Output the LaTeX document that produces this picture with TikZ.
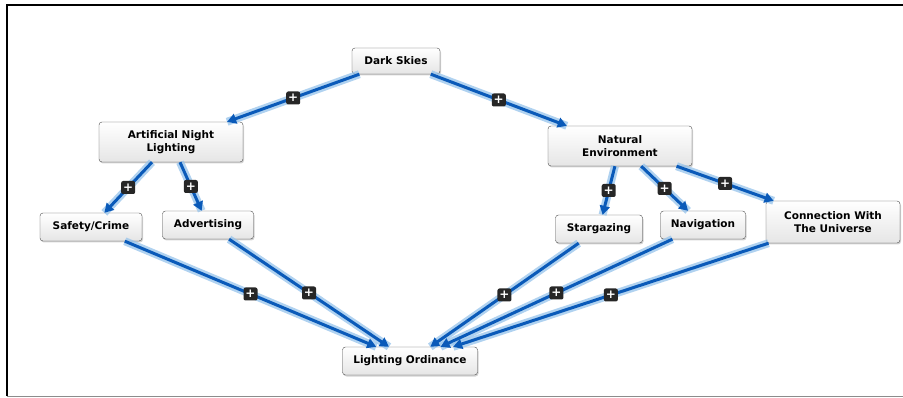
\documentclass[tikz,border=0pt]{standalone}
\usepackage{fontspec}
\setsansfont{DejaVu Sans}
\usetikzlibrary{arrows.meta,shadows}
\definecolor{linkblue}{RGB}{10,90,185}
\definecolor{haloblue}{RGB}{150,195,235}

\begin{document}
\begin{tikzpicture}[
        x=1pt, y=-1pt,
        every node/.style={font=\sffamily\bfseries\fontsize{10.5}{13}\selectfont, align=center},
        topic/.style={draw=black!70, rounded corners=3pt, top color=white, bottom color=black!10, inner sep=0pt,
            drop shadow={opacity=.35, shadow xshift=1pt, shadow yshift=-1.5pt}},
        plus/.style={fill=black!85, rounded corners=2pt, text=white, minimum width=14pt, minimum height=13pt,
            inner sep=0pt, font=\sffamily\bfseries\fontsize{12}{12}\selectfont},
        link/.style={linkblue, line width=3pt, -{Triangle[length=9pt,width=10pt]},
            preaction={draw=haloblue, line width=8pt, opacity=.75, -}}
    ]
    \useasboundingbox (0,0) rectangle (903,398);

    % Frame
    \draw[black, line width=2.5pt] (7,396) -- (7,5) -- (903,5);
    \draw[black!45, line width=1pt] (7,396.5) -- (903,396.5);

    % Nodes
    \node[topic, minimum width=88pt, minimum height=26pt] (dark) at (396,61) {Dark Skies};

    \node[topic, minimum width=144pt, minimum height=40pt] (light) at (171,142) {Artificial Night\\Lighting};
    \node[topic, minimum width=144pt, minimum height=40pt] (nature) at (620,146) {Natural\\Environment};

    \node[topic, minimum width=102pt, minimum height=28pt] (safety) at (91,227) {Safety/Crime};
    \node[topic, minimum width=91pt, minimum height=28pt] (advert) at (208,225) {Advertising};
    \node[topic, minimum width=87pt, minimum height=28pt] (stars) at (599,229) {Stargazing};
    \node[topic, minimum width=85pt, minimum height=28pt] (navig) at (703,225) {Navigation};
    \node[topic, minimum width=134pt, minimum height=42pt] (universe) at (833,222) {Connection With\\The Universe};

    \node[topic, minimum width=135pt, minimum height=28pt] (ordinance) at (410,361) {Lighting Ordinance};

    % Edges
    \draw[link] (dark) -- node[plus] (p1) {+} (light);
    \draw[link] (dark) -- node[plus] (p2) {+} (nature);

    \draw[link] (light) -- node[plus] (p3) {+} (safety);
    \draw[link] (light) -- node[plus] (p4) {+} (advert);
    \draw[link] (nature) -- node[plus] (p5) {+} (stars);
    \draw[link] (nature) -- node[plus] (p6) {+} (navig);
    \draw[link] (nature) -- node[plus] (p7) {+} (universe);

    \draw[link] (safety) -- node[plus] (p8) {+} (ordinance);
    \draw[link] (advert) -- node[plus] (p9) {+} (ordinance);
    \draw[link] (stars) -- node[plus] (p10) {+} (ordinance);
    \draw[link] (navig) -- node[plus] (p11) {+} (ordinance);
    \draw[link] (universe) -- node[plus] (p12) {+} (ordinance);

\end{tikzpicture}
\end{document}
